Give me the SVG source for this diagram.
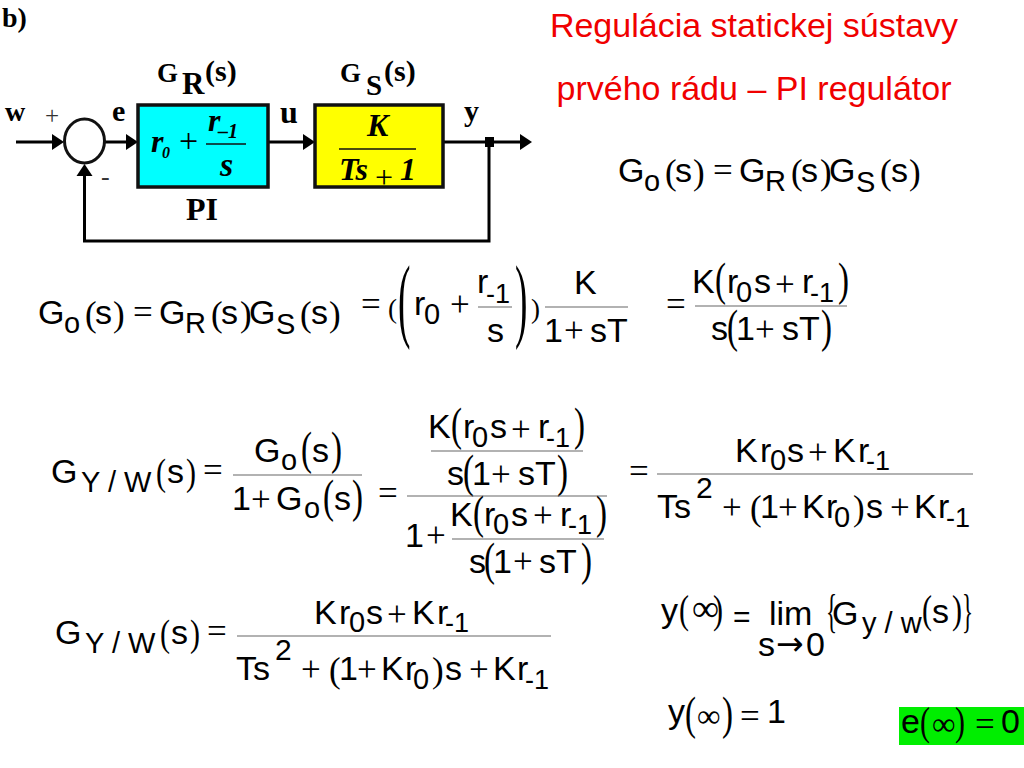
<svg xmlns="http://www.w3.org/2000/svg" width="1024" height="768" viewBox="0 0 1024 768">
<style>
text{font-family:"Liberation Sans",Arial,sans-serif;font-size:34px;fill:#000}
.t{fill:#f00000}
.s{font-size:29px}
.ss{font-size:27px}
.o{font-family:"Liberation Serif",serif;font-size:35px}
.p{font-family:"Liberation Serif",serif;font-size:35px}
.q{font-family:"Liberation Serif",serif;font-size:46px}
.i{font-family:"Liberation Serif",serif;font-size:33px}
.fr{stroke:#666;stroke-width:1.200;fill:none}
.b{font-family:"Liberation Serif",serif;font-weight:bold;font-size:30px}
.bi{font-family:"Liberation Serif",serif;font-weight:bold;font-style:italic;font-size:32px}
.n{font-family:"Liberation Serif",serif;font-size:26px;fill:#333}
.box{stroke:#111;stroke-width:3.500}
.c{stroke:#000;stroke-width:3;fill:none}
.fl{stroke:#111;stroke-width:1.500}
</style>
<defs>
<marker id="ah" markerUnits="userSpaceOnUse" markerWidth="13" markerHeight="18" refX="8" refY="9" orient="auto"><path d="M0 1L12 9L0 17Z" fill="#000"/></marker>
</defs>
<rect width="1024" height="768" fill="#fff"/>
<text class="b" x="2" y="27" style="font-size:28px">b)</text>
<g id="connectors">
<path class="c" d="M16 142H60" marker-end="url(#ah)"/>
<path class="c" d="M105 142H134" marker-end="url(#ah)"/>
<path class="c" d="M268 142H311" marker-end="url(#ah)"/>
<path class="c" d="M443 142H528" marker-end="url(#ah)"/>
<path class="c" d="M489 142V241H84.500V168" marker-end="url(#ah)"/>
<rect x="485" y="137" width="9" height="10" fill="#000"/>
</g>
<g id="sum"><ellipse cx="84.500" cy="141" rx="20" ry="22" fill="#fff" stroke="#111" stroke-width="3"/>
<text class="n" x="45" y="124" style="font-size:25px">+</text><text class="n" x="101" y="185">-</text></g>
<g id="signals">
<text class="b" x="5" y="121" style="font-size:28px">w</text><text class="b" x="112" y="121">e</text><text class="b" x="280" y="123" style="font-size:32px">u</text><text class="b" x="464" y="121">y</text>
</g>
<g id="regulator">
<rect class="box" x="138" y="105" width="130" height="82" fill="#00ffff"/>
<text class="b" x="157" y="82" style="font-size:27px">G</text><text class="b" x="182" y="94" style="font-size:31px">R</text><text class="b" x="205" y="81">(s)</text>
<text class="bi" x="151" y="152">r</text><text class="bi" x="162" y="158" style="font-size:16px">0</text>
<text class="n" x="179" y="152" style="font-size:34px;fill:#000">+</text>
<path class="fl" d="M206 144H246"/>
<text class="bi" x="208" y="131">r</text><text class="bi" x="218" y="138" style="font-size:20px">–1</text>
<text class="bi" x="220" y="176" style="font-size:34px">s</text>
<text class="b" x="186" y="220" style="font-size:32px">PI</text>
</g>
<g id="plant">
<rect class="box" x="315" y="105" width="128" height="82" fill="#ffff00"/>
<text class="b" x="340" y="82" style="font-size:27px">G</text><text class="b" x="366" y="95" style="font-size:29px">S</text><text class="b" x="384" y="81">(s)</text>
<text class="bi" x="367" y="136">K</text>
<path class="fl" d="M339 149H416"/>
<text class="bi" x="339" y="180">Ts</text><text class="n" x="375" y="188" style="font-size:32px;fill:#000">+</text><text class="bi" x="400" y="180">1</text>
</g>
<g id="title"><text class="t" x="754" y="37" text-anchor="middle">Regulácia statickej sústavy</text><text class="t" x="754" y="100" text-anchor="middle">prvého rádu – PI regulátor</text></g>
<g id="eq1" transform="translate(580,-142)">
<text x="38" y="324">G</text><text class="s" x="64" y="333">o</text><text class="p" x="85" y="326">(</text><text x="95" y="324">s</text><text class="p" x="113" y="326">)</text><text class="o" x="133" y="324">=</text><text x="159" y="324">G</text><text class="s" x="185" y="333">R</text><text class="p" x="211" y="326">(</text><text x="221" y="324">s</text><text class="p" x="240" y="326">)</text><text x="249" y="324">G</text><text class="s" x="276" y="334">S</text><text class="p" x="300" y="326">(</text><text x="311" y="324">s</text><text class="p" x="329" y="326">)</text>
</g>
<g id="eq2">
<text x="38" y="324">G</text><text class="s" x="64" y="333">o</text><text class="p" x="85" y="326">(</text><text x="95" y="324">s</text><text class="p" x="113" y="326">)</text><text class="o" x="133" y="324">=</text><text x="159" y="324">G</text><text class="s" x="185" y="333">R</text><text class="p" x="211" y="326">(</text><text x="221" y="324">s</text><text class="p" x="240" y="326">)</text><text x="249" y="324">G</text><text class="s" x="276" y="334">S</text><text class="p" x="300" y="326">(</text><text x="311" y="324">s</text><text class="p" x="329" y="326">)</text>
<text class="o" x="361" y="316">=</text><text class="p" x="388" y="318" style="font-size:27px">(</text>
<text class="p" transform="translate(398,330) scale(1.100,2.760)" style="font-size:34px">(</text>
<text x="414" y="315">r</text><text class="s" x="424" y="324">0</text><text class="o" x="450" y="316">+</text>
<text x="477" y="293">r</text><text class="ss" x="486" y="303">-1</text><path class="fr" d="M478 307H512"/><text x="487" y="342">s</text>
<text class="p" transform="translate(515,330) scale(1.100,2.760)" style="font-size:34px">)</text><text class="p" x="531" y="318" style="font-size:27px">)</text>
<text x="574" y="294">K</text><path class="fr" d="M545 307H628"/><text x="544" y="342">1</text><text class="o" x="564" y="342">+</text><text x="590" y="342">sT</text>
<text class="o" x="666" y="316">=</text>
<g transform="translate(264,-145)">
<text x="428" y="438">K</text><text class="q" x="451" y="440" textLength="11" lengthAdjust="spacingAndGlyphs">(</text><text x="463" y="438">r</text><text class="s" x="472" y="447">0</text><text x="490" y="438">s</text><text class="o" x="511" y="441">+</text><text x="538" y="438">r</text><text class="ss" x="546" y="447">-1</text><text class="q" x="574" y="440" textLength="11" lengthAdjust="spacingAndGlyphs">)</text>
<path class="fr" d="M431 451H583"/>
<text x="447" y="485">s</text><text class="q" x="463" y="487" textLength="11" lengthAdjust="spacingAndGlyphs">(</text><text x="472" y="485">1</text><text class="o" x="491" y="486">+</text><text x="518" y="485">sT</text><text class="q" x="557" y="487" textLength="11" lengthAdjust="spacingAndGlyphs">)</text>
</g>
</g>
<g id="eq3">
<text x="51" y="483">G</text><text class="s" x="81" y="492">Y / W</text><text class="p" x="156" y="485" style="font-size:38px" textLength="10" lengthAdjust="spacingAndGlyphs">(</text><text x="167" y="483">s</text><text class="p" x="186" y="485" style="font-size:38px" textLength="10" lengthAdjust="spacingAndGlyphs">)</text><text class="o" x="203" y="482">=</text>
<text x="254" y="462">G</text><text class="s" x="281" y="470">o</text><text class="q" x="301" y="464" textLength="11" lengthAdjust="spacingAndGlyphs">(</text><text x="312" y="462">s</text><text class="q" x="331" y="464" textLength="11" lengthAdjust="spacingAndGlyphs">)</text><path class="fr" d="M233 475H362"/>
<text x="232" y="510">1</text><text class="o" x="251" y="511">+</text><text x="276" y="510">G</text><text class="s" x="304" y="518">o</text><text class="q" x="323" y="512" textLength="11" lengthAdjust="spacingAndGlyphs">(</text><text x="334" y="510">s</text><text class="q" x="352" y="512" textLength="11" lengthAdjust="spacingAndGlyphs">)</text>
<text class="o" x="378" y="505">=</text>
<text x="428" y="438">K</text><text class="q" x="451" y="440" textLength="11" lengthAdjust="spacingAndGlyphs">(</text><text x="463" y="438">r</text><text class="s" x="472" y="447">0</text><text x="490" y="438">s</text><text class="o" x="511" y="441">+</text><text x="538" y="438">r</text><text class="ss" x="546" y="447">-1</text><text class="q" x="574" y="440" textLength="11" lengthAdjust="spacingAndGlyphs">)</text>
<path class="fr" d="M431 451H583"/>
<text x="447" y="485">s</text><text class="q" x="463" y="487" textLength="11" lengthAdjust="spacingAndGlyphs">(</text><text x="472" y="485">1</text><text class="o" x="491" y="486">+</text><text x="518" y="485">sT</text><text class="q" x="557" y="487" textLength="11" lengthAdjust="spacingAndGlyphs">)</text>
<path class="fr" d="M407 496H607"/>
<text x="405" y="547">1</text><text class="o" x="426" y="547">+</text>
<text x="450" y="526">K</text><text class="q" x="473" y="528" textLength="11" lengthAdjust="spacingAndGlyphs">(</text><text x="484" y="526">r</text><text class="s" x="493" y="534">0</text><text x="511" y="526">s</text><text class="o" x="533" y="527">+</text><text x="560" y="526">r</text><text class="ss" x="568" y="534">-1</text><text class="q" x="596" y="528" textLength="11" lengthAdjust="spacingAndGlyphs">)</text>
<path class="fr" d="M452 539H604"/>
<text x="469" y="573">s</text><text class="q" x="484" y="575" textLength="11" lengthAdjust="spacingAndGlyphs">(</text><text x="493" y="573">1</text><text class="o" x="513" y="573">+</text><text x="539" y="573">sT</text><text class="q" x="581" y="575" textLength="11" lengthAdjust="spacingAndGlyphs">)</text>
<text class="o" x="629" y="483">=</text>
<text x="735" y="462">K</text><text x="760" y="462">r</text><text class="s" x="770" y="470">0</text><text x="787" y="462">s</text><text class="o" x="808" y="464">+</text><text x="833" y="462">K</text><text x="858" y="462">r</text><text class="ss" x="866" y="470">-1</text>
<path class="fr" d="M657 474H973"/>
<text x="657" y="518">Ts</text><text class="s" x="696" y="498" style="font-size:30px">2</text><text class="o" x="722" y="519">+</text><text class="p" x="750" y="520">(</text><text x="760" y="518">1</text><text class="o" x="778" y="519">+</text><text x="802" y="518">K</text><text x="826" y="518">r</text><text class="s" x="834" y="527">0</text><text class="p" x="853" y="520">)</text><text x="866" y="518">s</text><text class="o" x="890" y="519">+</text><text x="914" y="518">K</text><text x="938" y="518">r</text><text class="ss" x="946" y="527">-1</text>
</g>
<g id="eq4">
<g transform="translate(4,161)"><text x="51" y="483">G</text><text class="s" x="81" y="492">Y / W</text><text class="p" x="156" y="485" style="font-size:38px" textLength="10" lengthAdjust="spacingAndGlyphs">(</text><text x="167" y="483">s</text><text class="p" x="186" y="485" style="font-size:38px" textLength="10" lengthAdjust="spacingAndGlyphs">)</text><text class="o" x="203" y="482">=</text></g>
<g transform="translate(-421,162)">
<text x="735" y="462">K</text><text x="760" y="462">r</text><text class="s" x="770" y="470">0</text><text x="787" y="462">s</text><text class="o" x="808" y="464">+</text><text x="833" y="462">K</text><text x="858" y="462">r</text><text class="ss" x="866" y="470">-1</text>
<path class="fr" d="M658 474H972"/>
<text x="657" y="518">Ts</text><text class="s" x="696" y="498" style="font-size:30px">2</text><text class="o" x="722" y="519">+</text><text class="p" x="750" y="520">(</text><text x="760" y="518">1</text><text class="o" x="778" y="519">+</text><text x="802" y="518">K</text><text x="826" y="518">r</text><text class="s" x="834" y="527">0</text><text class="p" x="853" y="520">)</text><text x="866" y="518">s</text><text class="o" x="890" y="519">+</text><text x="914" y="518">K</text><text x="938" y="518">r</text><text class="ss" x="946" y="527">-1</text>
</g>
</g>
<g id="eq5">
<text x="661" y="622">y</text><text class="p" x="679" y="623" style="font-size:39px" textLength="10" lengthAdjust="spacingAndGlyphs">(</text><text class="i" x="692" y="621" style="font-size:38px">∞</text><text class="p" x="713" y="623" style="font-size:39px" textLength="10" lengthAdjust="spacingAndGlyphs">)</text><text x="733" y="627" style="font-size:30px">=</text>
<text x="769" y="625">lim</text><text x="758" y="656">s</text><text x="776" y="655" style="font-size:33px;font-family:'DejaVu Sans',sans-serif;font-weight:normal">→</text><text x="806" y="656">0</text>
<text class="q" transform="translate(826,627) scale(.5,1)">{</text><text x="832" y="625">G</text><text class="s" x="862" y="633">y / w</text><text class="p" x="922" y="623" style="font-size:39px" textLength="10" lengthAdjust="spacingAndGlyphs">(</text><text x="932" y="623">s</text><text class="p" x="952" y="623" style="font-size:39px" textLength="10" lengthAdjust="spacingAndGlyphs">)</text><text class="q" transform="translate(962,627) scale(.5,1)">}</text>
</g>
<g id="eq6">
<text x="668" y="723">y</text><text class="q" x="685" y="729" textLength="11" lengthAdjust="spacingAndGlyphs">(</text><text class="i" x="697" y="727">∞</text><text class="q" x="722" y="729" textLength="11" lengthAdjust="spacingAndGlyphs">)</text><text class="o" x="740" y="728">=</text><text x="767" y="723">1</text>
</g>
<g id="eq7">
<rect x="899" y="707" width="125" height="38" fill="#00ee00"/>
<text x="901" y="733">e</text><text class="p" x="920" y="735" style="font-size:40px" textLength="10" lengthAdjust="spacingAndGlyphs">(</text><text class="i" x="932" y="735">∞</text><text class="p" x="955" y="735" style="font-size:40px" textLength="10" lengthAdjust="spacingAndGlyphs">)</text><text class="o" x="975" y="736">=</text><text x="1001" y="733">0</text>
</g>
</svg>
